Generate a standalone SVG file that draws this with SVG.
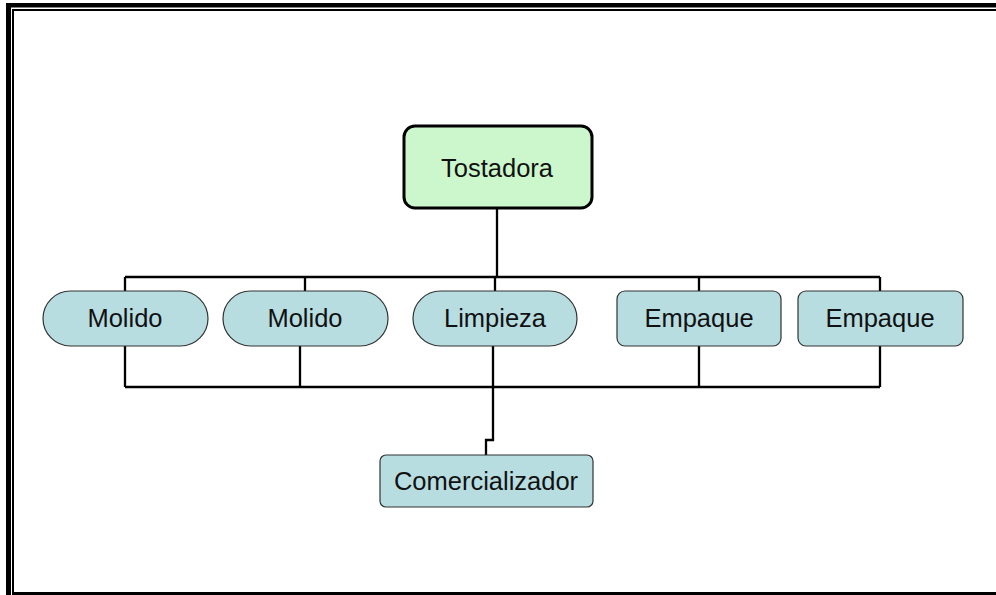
<svg xmlns="http://www.w3.org/2000/svg" width="996" height="595" viewBox="0 0 996 595">
<style>
.t{font-family:"Liberation Sans",Arial,sans-serif;font-size:25.5px;fill:#111;text-anchor:middle}
.n{fill:#b7dde1;stroke:#333;stroke-width:1.2}
.c{fill:none;stroke:#000;stroke-width:2.3}
</style>
<rect x="0" y="0" width="996" height="595" fill="#fff"/>
<g id="frame" fill="#000">
<rect x="6" y="3" width="990" height="4.5"/>
<rect x="6" y="3" width="5" height="592"/>
<rect x="12" y="9" width="984" height="2"/>
<rect x="12" y="9" width="2" height="586"/>
<rect x="12" y="592" width="984" height="3"/>
</g>
<g id="connectors" class="c">
<path d="M497 208V277"/>
<path d="M125 277H880"/>
<path d="M125 277V291M305 277V291M495 277V291M699 277V291M880 277V291"/>
<path d="M125 346V387M300 346V387M699 346V387M880 346V387"/>
<path d="M125 387H880"/>
<path d="M493 346V440H486V455"/>
</g>
<g id="tostadora">
<rect x="404" y="126" width="188" height="82" rx="11" fill="#ccf7cc" stroke="#000" stroke-width="3"/>
<text class="t" x="497" y="177">Tostadora</text>
</g>
<g id="molido1">
<rect class="n" x="43" y="291" width="165" height="55" rx="27.5"/>
<text class="t" x="125" y="327">Molido</text>
</g>
<g id="molido2">
<rect class="n" x="223" y="291" width="165" height="55" rx="27.5"/>
<text class="t" x="305" y="327">Molido</text>
</g>
<g id="limpieza">
<rect class="n" x="413" y="291" width="164" height="55" rx="27.5"/>
<text class="t" x="495" y="327">Limpieza</text>
</g>
<g id="empaque1">
<rect class="n" x="617" y="291" width="164" height="55" rx="8"/>
<text class="t" x="699" y="327">Empaque</text>
</g>
<g id="empaque2">
<rect class="n" x="798" y="291" width="165" height="55" rx="8"/>
<text class="t" x="880" y="327">Empaque</text>
</g>
<g id="comercializador">
<rect class="n" x="380" y="455" width="213" height="52" rx="6"/>
<text class="t" x="486" y="490">Comercializador</text>
</g>
</svg>
